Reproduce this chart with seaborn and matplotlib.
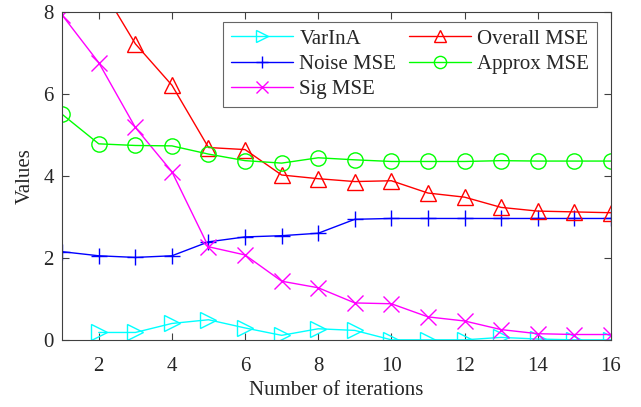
import matplotlib
matplotlib.use("Agg")
import matplotlib.pyplot as plt
import numpy as np
import pandas as pd
import seaborn as sns

iterations = list(range(1, 17))
varina = [np.nan, 0.18, 0.18, 0.40, 0.49, 0.29, 0.11, 0.27, 0.23, 0.0, 0.0, 0.0, 0.06, 0.02, 0.0, 0.0]
noise_mse = [2.15, 2.05, 2.01, 2.05, 2.39, 2.51, 2.54, 2.60, 2.94, 2.96, 2.96, 2.96, 2.96, 2.96, 2.96, 2.96]
sig_mse = [7.92, 6.76, 5.18, 4.10, 2.27, 2.07, 1.43, 1.27, 0.90, 0.88, 0.56, 0.46, 0.25, 0.15, 0.13, 0.13]
overall_mse = [10.2, 8.7, 7.22, 6.21, 4.69, 4.64, 4.02, 3.93, 3.86, 3.88, 3.58, 3.48, 3.23, 3.14, 3.12, 3.10]
approx_mse = [5.50, 4.78, 4.74, 4.73, 4.53, 4.37, 4.31, 4.44, 4.39, 4.35, 4.35, 4.35, 4.37, 4.36, 4.36, 4.36]

series = [
    ("VarInA", varina, "#00ffff", ">"),
    ("Noise MSE", noise_mse, "#0000ff", "+"),
    ("Sig MSE", sig_mse, "#ff00ff", "x"),
    ("Overall MSE", overall_mse, "#ff0000", "^"),
    ("Approx MSE", approx_mse, "#00ff00", "o"),
]

sns.set_style("ticks")
plt.rcParams["font.family"] = ["Liberation Serif", "DejaVu Serif"]
plt.rcParams["font.size"] = 15

fig, ax = plt.subplots(figsize=(6.41, 4.07), dpi=100)
fig.subplots_adjust(left=0.097, right=0.953, top=0.971, bottom=0.165)

for name, vals, col, mk in series:
    df = pd.DataFrame({"iter": iterations, "value": vals})
    sns.lineplot(data=df, x="iter", y="value", ax=ax, color=col, marker=mk,
                 markersize=11, markerfacecolor="none", markeredgecolor=col,
                 markeredgewidth=1.0, linewidth=1.0, label=name)

ax.set_xlim(1, 16)
ax.set_ylim(0, 8)
ax.set_xticks(range(2, 17, 2))
ax.set_yticks(range(0, 9, 2))
ax.tick_params(direction="in", top=True, right=True, labelsize=15, length=5,
               color="#404040")
ax.tick_params(axis="x", pad=12)
ax.tick_params(axis="y", pad=6)
for s in ax.spines.values():
    s.set_visible(True)
    s.set_color("#404040")
    s.set_linewidth(0.8)
ax.set_xlabel("Number of iterations", fontsize=15, labelpad=4)
ax.set_ylabel("Values", fontsize=15, labelpad=6)

leg = ax.legend(ncol=2, loc="upper right", bbox_to_anchor=(0.974, 0.97),
                borderaxespad=0, markerscale=0.8,
                fontsize=15, frameon=True, fancybox=False, edgecolor="#404040",
                handlelength=3.0, columnspacing=0.6, handletextpad=0.3,
                labelspacing=0.28, borderpad=0.35)
leg.get_frame().set_linewidth(0.8)

fig.savefig("out.png", dpi=100)
